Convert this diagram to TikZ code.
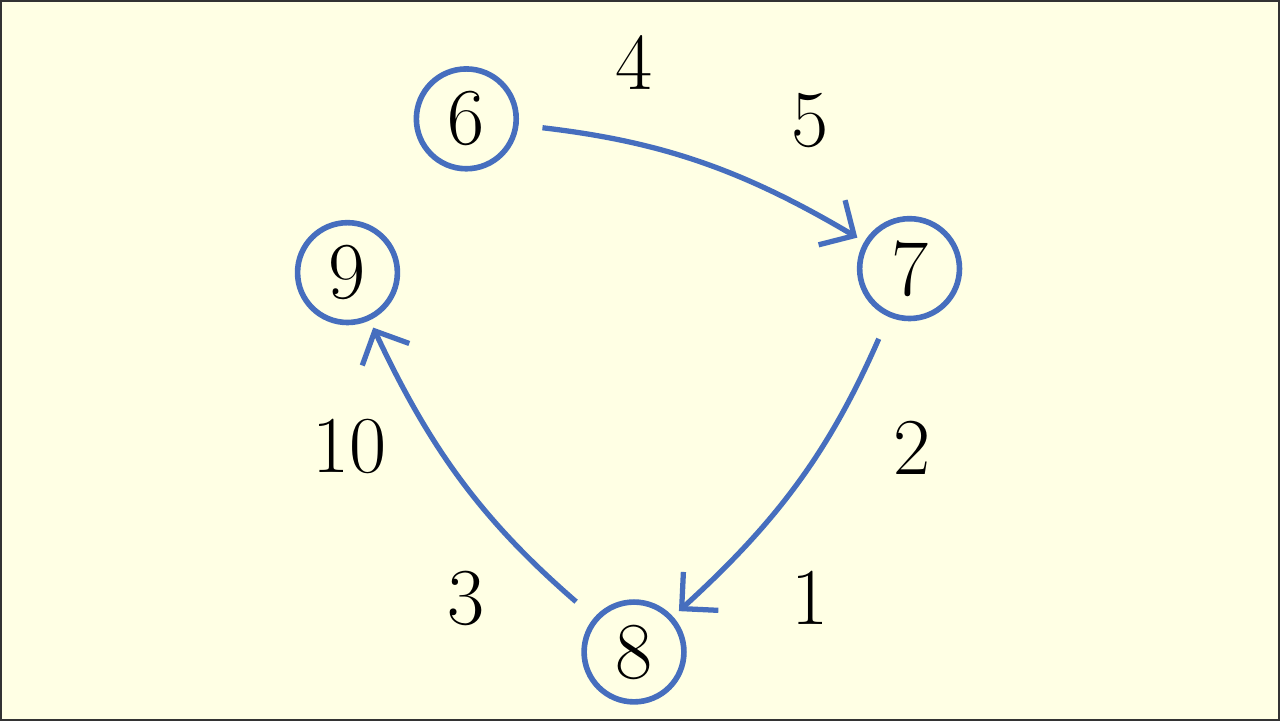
\documentclass[tikz,border=0pt]{standalone}
\usepackage{tikz}
\usetikzlibrary{positioning}
\usetikzlibrary{arrows.meta}
\definecolor{bgyellow}{RGB}{255,255,228}
\definecolor{ringblue}{RGB}{70,110,190}

\begin{document}
\begin{tikzpicture}[
vertex/.style={circle,draw=ringblue,line width=1.6pt,minimum size=1.0cm,inner sep=0pt,font=\fontsize{23}{27}\selectfont},
lab/.style={font=\fontsize{23}{27}\selectfont},
link/.style={draw=ringblue,line width=1.5pt,-{Straight Barb[length=2.6mm,width=5.2mm,line width=1.5pt]},shorten <=0.24cm,shorten >=0.08cm}
]
\fill[bgyellow,draw=black!80,line width=0.6pt](0,0) rectangle (12.8,7.2);
\node[vertex](6) at (4.66,6.02){6};
\node[vertex](7) at (9.10,4.52){7};
\node[vertex](8) at (6.34,0.68){8};
\node[vertex](9) at (3.47,4.48){9};

\node[lab](l4) at (6.34,6.58){4};
\node[lab](l5) at (8.10,6.00){5};
\node[lab](l2) at (9.12,2.72){2};
\node[lab](l1) at (8.10,1.22){1};
\node[lab](l3) at (4.66,1.22){3};
\node[lab](l10) at (3.49,2.74){10};

\path
(6) edge[link,bend left=12] (7)
(7) edge[link,bend left=12] (8)
(8) edge[link,bend left=12] (9);
\end{tikzpicture}
\end{document}
